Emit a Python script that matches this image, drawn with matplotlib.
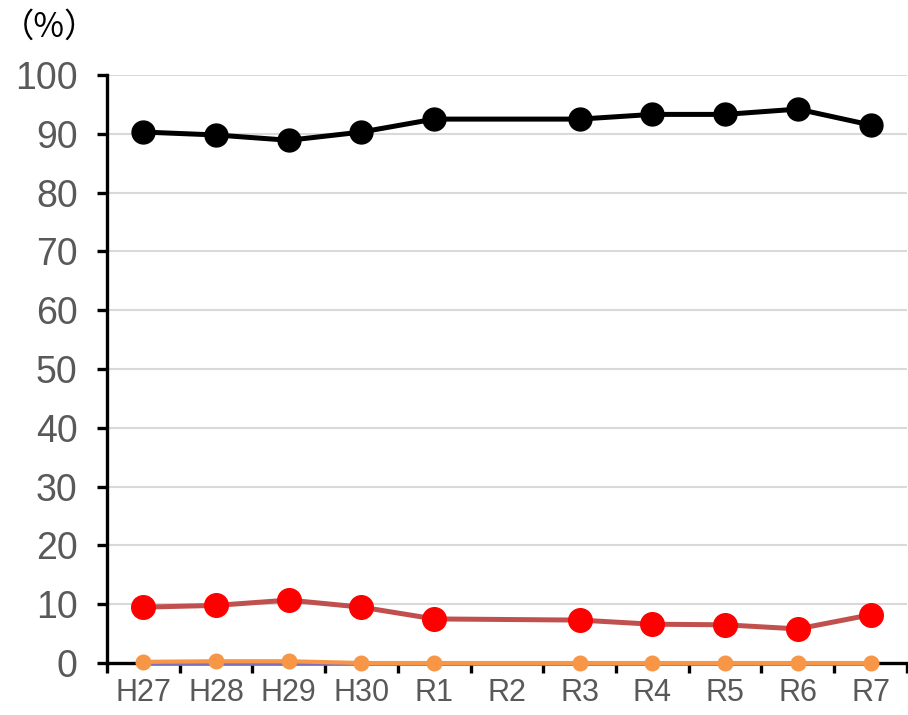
import matplotlib
matplotlib.use("Agg")
import matplotlib.pyplot as plt
import numpy as np

categories = ["H27", "H28", "H29", "H30", "R1", "R2", "R3", "R4", "R5", "R6", "R7"]
black_vals = [90.3, 89.8, 88.9, 90.3, 92.5, None, 92.5, 93.3, 93.3, 94.2, 91.5]
red_vals = [9.5, 9.8, 10.7, 9.5, 7.5, None, 7.3, 6.6, 6.5, 5.8, 8.2]
orange_vals = [0.2, 0.3, 0.3, 0.0, 0.0, None, 0.0, 0.0, 0.0, 0.0, 0.0]
purple_vals = [0.0, 0.0, 0.0, 0.0, 0.0, None, 0.0, 0.0, 0.0, 0.0, 0.0]
y_ticks = [0, 10, 20, 30, 40, 50, 60, 70, 80, 90, 100]

plt.rcParams['font.family'] = ['Liberation Sans', 'DejaVu Sans']

fig = plt.figure(figsize=(9.08, 7.15), dpi=100)
ax = fig.add_axes([0.1178, 0.0727, 0.881, 0.8224])

def xy(vals):
    xs = [i for i, v in enumerate(vals) if v is not None]
    ys = [v for v in vals if v is not None]
    return xs, ys

x, y = xy(purple_vals)
ax.plot(x, y, color="#7f6fbf", lw=3.4, zorder=3, solid_capstyle="butt", clip_on=False)
x, y = xy(orange_vals)
ax.plot(x, y, color="#f79646", lw=3.0, marker="o", ms=10.5, mfc="#f79646", mec="#f79646",
        zorder=4, clip_on=False)
x, y = xy(red_vals)
ax.plot(x, y, color="#c0504d", lw=3.6, marker="o", ms=17, mfc="#ff0000", mec="#ff0000",
        zorder=5, clip_on=False)
x, y = xy(black_vals)
ax.plot(x, y, color="#000000", lw=3.6, marker="o", ms=16.5, mfc="#000000", mec="#000000",
        zorder=6, clip_on=False)

ax.set_xlim(-0.5, len(categories) - 0.5)
ax.set_ylim(0, 100)
ax.set_yticks(y_ticks)
ax.set_xticks(np.arange(len(categories)))
ax.set_xticklabels(categories)
ax.set_xticks(np.arange(len(categories) + 1) - 0.5, minor=True)

ax.grid(axis="y", color="#d9d9d9", lw=1.5, zorder=0)
ax.set_axisbelow(True)
for s in ["top", "right"]:
    ax.spines[s].set_visible(False)
for s in ["left", "bottom"]:
    ax.spines[s].set_linewidth(2.4)
    ax.spines[s].set_color("black")
    ax.spines[s].set_zorder(2)

ax.tick_params(axis="y", which="major", length=7, width=2.4, color="black",
               labelsize=27, labelcolor="#595959", pad=14)
ax.tick_params(axis="x", which="major", length=0, labelsize=22, labelcolor="#595959", pad=11)
ax.tick_params(axis="x", which="minor", length=7, width=2.4, color="black")

fig.text(0.001, 0.962, "（%）", fontsize=24, family=['Noto Sans CJK JP', 'DejaVu Sans'],
         color="black", va="center", ha="left")

fig.savefig("out.png", dpi=100, facecolor="white")
